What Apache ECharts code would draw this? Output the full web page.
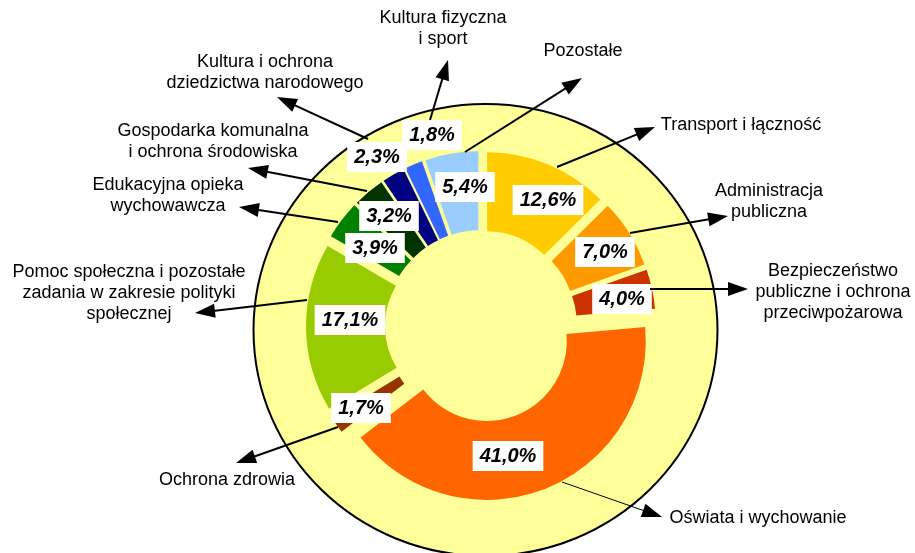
<!DOCTYPE html>
<html>
<head>
<meta charset="utf-8">
<script src="https://cdn.jsdelivr.net/npm/echarts@6/dist/echarts.min.js"></script>
<style>
  html, body { margin: 0; padding: 0; background: #fff; }
  #chart { width: 915px; height: 553px; }
</style>
</head>
<body>
<div id="chart"></div>
<script>
// Spending structure by budget section (share of total, %)
const categories = [
  'Transport i łączność',
  'Administracja publiczna',
  'Bezpieczeństwo publiczne i ochrona przeciwpożarowa',
  'Oświata i wychowanie',
  'Ochrona zdrowia',
  'Pomoc społeczna i pozostałe zadania w zakresie polityki społecznej',
  'Edukacyjna opieka wychowawcza',
  'Gospodarka komunalna i ochrona środowiska',
  'Kultura i ochrona dziedzictwa narodowego',
  'Kultura fizyczna i sport',
  'Pozostałe'
];
const shares = [12.6, 7.0, 4.0, 41.0, 1.7, 17.1, 3.9, 3.2, 2.3, 1.8, 5.4];

// Callout captions as they are broken into lines
const captions = [
  'Transport i łączność',
  'Administracja\npubliczna',
  'Bezpieczeństwo\npubliczne i ochrona\nprzeciwpożarowa',
  'Oświata i wychowanie',
  'Ochrona zdrowia',
  'Pomoc społeczna i pozostałe\nzadania w zakresie polityki\nspołecznej',
  'Edukacyjna opieka\nwychowawcza',
  'Gospodarka komunalna\ni ochrona środowiska',
  'Kultura i ochrona\ndziedzictwa narodowego',
  'Kultura fizyczna\ni sport',
  'Pozostałe'
];

// Styling and layout
const sliceColors = ['#FFCC00', '#FF9900', '#CC3300', '#FF6600', '#993300',
  '#99CC00', '#008000', '#003300', '#000080', '#3366FF', '#99CCFF'];
const pieCenter = [481, 326];
const pieRadius = [80, 159];
const explode = 16;
// centre of each percentage box
const pctLabelPos = [[548, 200], [605, 252], [622, 299], [508, 456], [361, 408],
  [350, 320], [375, 248], [389, 216], [377, 157], [432, 135], [465, 187]];
// centre of each caption block
const captionPos = [[741, 125], [769, 202], [833, 292], [758, 518], [227, 480],
  [129, 293], [168, 196], [213, 142], [265, 73], [443, 29], [583, 51]];
// callout arrows: [fromX, fromY, tipX, tipY, lineWidth]
const arrows = [
  [557, 167, 655, 127, 2], [630, 233, 728, 216, 2], [650, 289, 748, 289, 2],
  [562, 482, 662, 517, 1], [338, 427, 236, 463, 2], [307, 300, 195, 313, 2],
  [338, 222, 239, 207, 2], [367, 191, 248, 168, 2], [368, 139, 277, 97, 2],
  [430, 120, 448, 60, 2], [465, 152, 582, 78, 2]
];

const FONT = '"Liberation Sans", Arial, sans-serif';

function pct(v) { return v.toFixed(1).replace('.', ',') + '%'; }

const graphics = [{
  type: 'ellipse', z: -10, silent: true,
  shape: { cx: 485.5, cy: 330, rx: 232, ry: 226 },
  style: { fill: '#FFFF99', stroke: '#000', lineWidth: 2 }
}];

arrows.forEach(function (a) {
  const dx = a[2] - a[0], dy = a[3] - a[1];
  const len = Math.sqrt(dx * dx + dy * dy);
  const ux = dx / len, uy = dy / len;
  const headLen = 20, headHalf = 7;
  const bx = a[2] - ux * headLen, by = a[3] - uy * headLen;
  graphics.push({
    type: 'line', z: 10, silent: true,
    shape: { x1: a[0], y1: a[1], x2: bx + ux * 2, y2: by + uy * 2 },
    style: { stroke: '#000', lineWidth: a[4] }
  });
  graphics.push({
    type: 'polygon', z: 10, silent: true,
    shape: { points: [[a[2], a[3]], [bx - uy * headHalf, by + ux * headHalf], [bx + uy * headHalf, by - ux * headHalf]] },
    style: { fill: '#000' }
  });
});

captions.forEach(function (t, i) {
  graphics.push({
    type: 'text', z: 12, silent: true,
    x: captionPos[i][0], y: captionPos[i][1],
    style: {
      text: t, fill: '#000', font: '18px ' + FONT, lineHeight: 21,
      align: 'center', verticalAlign: 'middle'
    }
  });
});

const pieData = categories.map(function (name, i) {
  return { name: name, value: shares[i] };
});

const chart = echarts.init(document.getElementById('chart'), null, { renderer: 'canvas' });
chart.setOption({
  animation: false,
  backgroundColor: '#fff',
  graphic: graphics,
  series: [{
    // exploded donut
    type: 'pie',
    center: pieCenter,
    radius: pieRadius,
    startAngle: 90,
    clockwise: true,
    selectedMode: 'multiple',
    selectedOffset: explode,
    silent: true,
    emphasis: { disabled: true },
    label: { show: false },
    labelLine: { show: false },
    data: pieData.map(function (d, i) {
      return {
        name: d.name,
        value: d.value,
        selected: true,
        itemStyle: { color: sliceColors[i], borderWidth: 0 },
        select: { itemStyle: { color: sliceColors[i], borderWidth: 0 } }
      };
    })
  }, {
    // same shares, carrying only the percentage boxes
    type: 'pie',
    center: pieCenter,
    radius: pieRadius,
    startAngle: 90,
    clockwise: true,
    silent: true,
    z: 5,
    emphasis: { disabled: true },
    avoidLabelOverlap: false,
    itemStyle: { color: 'rgba(0,0,0,0)', borderWidth: 0 },
    label: {
      show: true,
      position: 'inside',
      formatter: function (p) { return pct(shares[p.dataIndex]); },
      backgroundColor: '#fff',
      padding: [4, 7],
      color: '#000',
      opacity: 1,
      fontFamily: FONT,
      fontSize: 20,
      fontWeight: 'bold',
      fontStyle: 'italic',
      lineHeight: 22
    },
    labelLine: { show: false },
    labelLayout: function (p) {
      const q = pctLabelPos[p.dataIndex];
      return { x: q[0], y: q[1], align: 'center', verticalAlign: 'middle' };
    },
    data: pieData
  }]
});
</script>
</body>
</html>
